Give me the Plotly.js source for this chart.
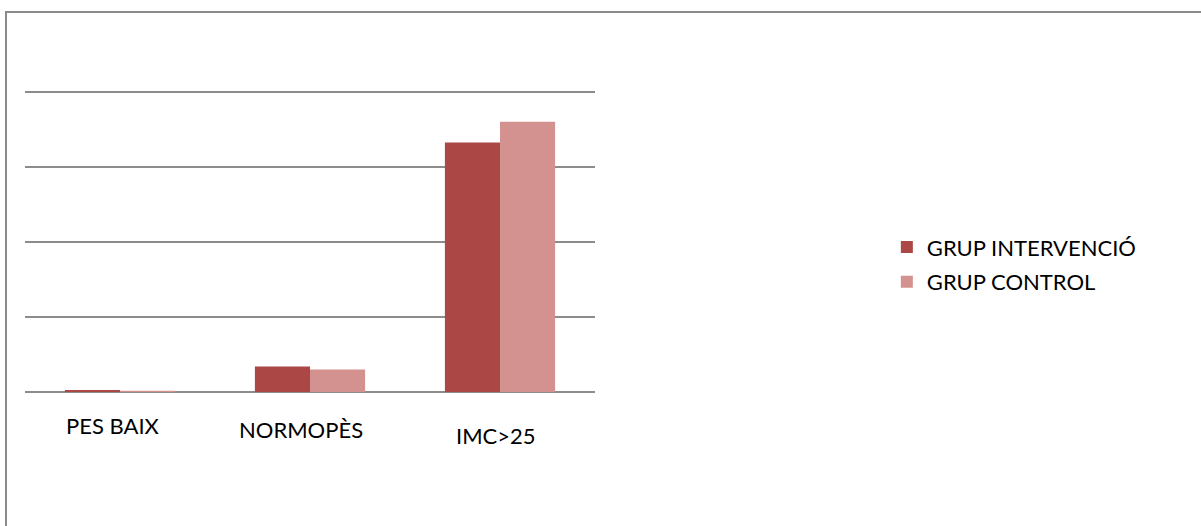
<!DOCTYPE html>
<html>
<head>
<meta charset="utf-8">
<script src="https://cdn.plot.ly/plotly-3.0.1.min.js"></script>
<style>
  html, body { margin: 0; padding: 0; background: #fff; overflow: hidden; }
  #chart { position: absolute; left: 0; top: 0; width: 1201px; height: 526px; }
  #frame { position: absolute; left: 5px; top: 11px; width: 1300px; height: 700px;
           border: 2px solid #8a8a8a; pointer-events: none; }
</style>
</head>
<body>
<div id="chart"></div>
<div id="frame"></div>
<script>
const categories = ["PES BAIX", "NORMOPÈS", "IMC>25"];
const seriesNames = ["GRUP INTERVENCIÓ", "GRUP CONTROL"];
const intervencio = [0.5, 6.8, 66.5];
const control = [0.3, 6.0, 72];
const colors = ["#AB4744", "#D39290"];
const labelShifts = [[-7, -33], [-9, -37], [-4, -43]];

const traces = [
  { type: "bar", name: seriesNames[0], x: categories, y: intervencio, legendgroup: "a",
    marker: { color: colors[0] }, hoverinfo: "x+y" },
  { type: "bar", name: seriesNames[1], x: categories, y: control, legendgroup: "b",
    marker: { color: colors[1] }, hoverinfo: "x+y" }
];

const font = "Lato, 'Open Sans', sans-serif";

const annotations = categories.map((c, i) => ({
  x: c, y: 0, xref: "x", yref: "y", text: c, showarrow: false,
  xshift: labelShifts[i][0], yshift: labelShifts[i][1],
  font: { family: font, size: 22, color: "#000" }
}));

const layout = {
  width: 1201, height: 526,
  margin: { l: 25, r: 606, t: 88, b: 134 },
  paper_bgcolor: "#fff", plot_bgcolor: "#fff",
  barmode: "group", bargap: 0.42, bargroupgap: 0,
  xaxis: { type: "category", showticklabels: false, showgrid: false,
           zeroline: false, showline: false, ticks: "" },
  yaxis: { range: [0, 81], tickvals: [0, 20, 40, 60, 80], showticklabels: false, ticks: "",
           showgrid: true, gridcolor: "#8c8c8c", gridwidth: 2,
           zeroline: true, zerolinecolor: "#8c8c8c", zerolinewidth: 2, showline: false },
  showlegend: true,
  legend: { x: 1.512, y: 0.545, xanchor: "left", yanchor: "top",
            traceorder: "grouped", tracegroupgap: 3,
            font: { family: font, size: 22, color: "#000" },
            bgcolor: "rgba(0,0,0,0)" },
  annotations: annotations
};

Plotly.newPlot("chart", traces, layout, { displayModeBar: false, staticPlot: true });
</script>
</body>
</html>
